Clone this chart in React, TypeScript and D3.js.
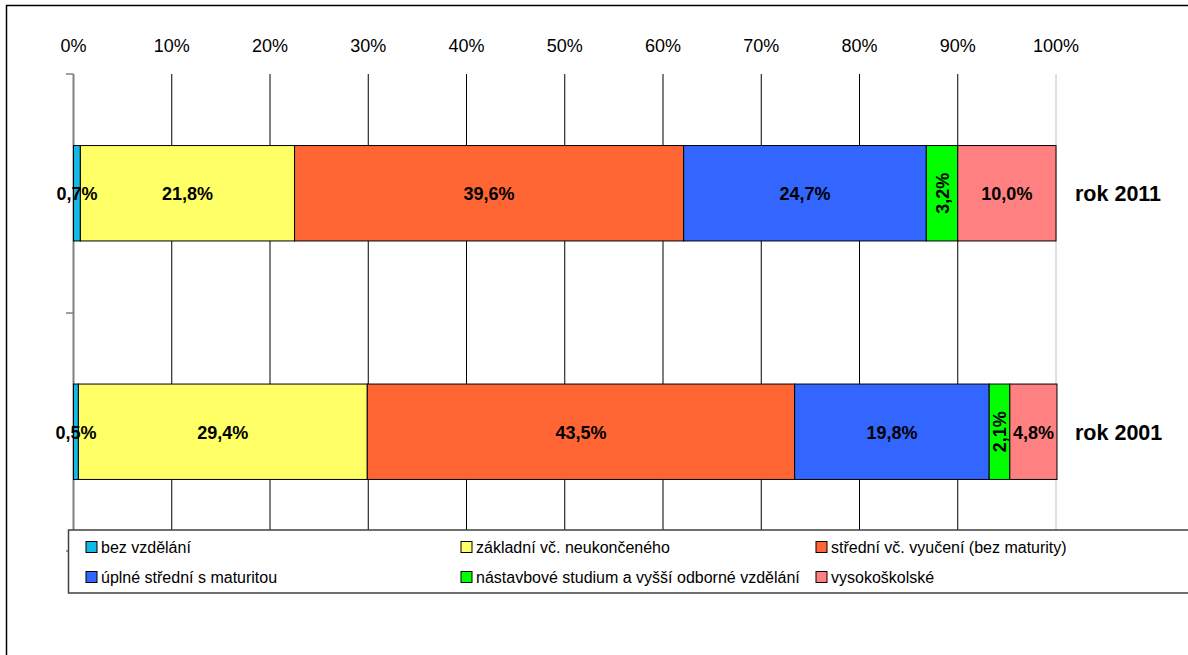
import React from "react";
import * as d3 from "d3";

const years = ["rok 2011", "rok 2001"];
const categories = [
  "bez vzdělání",
  "základní vč. neukončeného",
  "střední vč. vyučení (bez maturity)",
  "úplné střední s maturitou",
  "nástavbové studium a vyšší odborné vzdělání",
  "vysokoškolské",
];
const values2011 = [0.7, 21.8, 39.6, 24.7, 3.2, 10.0];
const values2001 = [0.5, 29.4, 43.5, 19.8, 2.1, 4.8];
const colors = ["#12B8E6", "#FFFF66", "#FF6633", "#3366FF", "#00FF00", "#FF8080"];
const ticks = [0, 10, 20, 30, 40, 50, 60, 70, 80, 90, 100];
const rotatedIdx = 4;

const W = 1188;
const H = 655;
const FONT = "'Liberation Sans', Arial, sans-serif";

export default function App() {
  const x = d3.scaleLinear().domain([0, 100]).range([73.5, 1056]);
  const y = d3.scaleBand().domain(years).range([74, 551]).paddingInner(0.6).paddingOuter(0.3);
  const yOuter = d3.scaleBand().domain(years).range([74, 551]);
  const series = [values2011, values2001];
  const fmt = (v: number) => v.toFixed(1).replace(".", ",") + "%";

  return (
    <svg width={W} height={H} style={{ position: "absolute", left: 0, top: 0, background: "#fff" }} fontFamily={FONT}>
      <rect x={6.5} y={5.5} width={1300} height={800} fill="none" stroke="#000" strokeWidth={1.5} />
      {/* gridlines */}
      {ticks.map((t) => (
        <line key={t} x1={x(t)} x2={x(t)} y1={74} y2={551}
          stroke={t === 100 ? "#c0c0c0" : t === 0 ? "none" : "#000"} strokeWidth={1} />
      ))}
      {/* axis labels */}
      {ticks.map((t) => (
        <text key={"l" + t} x={x(t)} y={52} textAnchor="middle" fontSize={18}>{t}%</text>
      ))}
      {/* left axis */}
      <line x1={73.5} x2={73.5} y1={74} y2={551} stroke="#808080" strokeWidth={2} />
      {[74, 313, 551].map((v) => (
        <line key={v} x1={66} x2={73.5} y1={v} y2={v} stroke="#808080" strokeWidth={1.5} />
      ))}
      {/* bars */}
      {years.map((yr, i) => {
        const vals = series[i];
        const starts = d3.cumsum([0, ...vals]);
        const by = y(yr)!;
        const bh = y.bandwidth();
        return (
          <g key={yr}>
            {vals.map((v, j) => (
              <rect key={j} x={x(starts[j])} y={by} width={x(starts[j] + v) - x(starts[j])} height={bh}
                fill={colors[j]} stroke="#000" strokeWidth={1} />
            ))}
            {vals.map((v, j) => {
              const cx = (x(starts[j]) + x(starts[j] + v)) / 2;
              const cy = by + bh / 2;
              if (j === rotatedIdx) {
                return (
                  <text key={"t" + j} transform={`translate(${cx + 6.5},${cy}) rotate(-90)`} textAnchor="middle"
                    fontSize={18} fontWeight="bold">{fmt(v)}</text>
                );
              }
              return (
                <text key={"t" + j} x={cx} y={cy + 7} textAnchor="middle" fontSize={18} fontWeight="bold">{fmt(v)}</text>
              );
            })}
            <text x={1075} y={yOuter(yr)! + yOuter.bandwidth() / 2 + 8} fontSize={21.5} fontWeight="bold">{yr}</text>
          </g>
        );
      })}
      {/* legend */}
      <rect x={68.5} y={530} width={1300} height={63} fill="#fff" stroke="#404040" strokeWidth={1.5} />
      {categories.map((c, i) => {
        const col = i % 3;
        const row = Math.floor(i / 3);
        const lx = [86, 461, 816][col];
        const ly = [547, 577][row];
        return (
          <g key={c}>
            <rect x={lx} y={ly - 5.5} width={11} height={11} fill={colors[i]} stroke="#000" strokeWidth={1} />
            <text x={lx + 15} y={ly + 5.5} fontSize={16}>{c}</text>
          </g>
        );
      })}
    </svg>
  );
}
